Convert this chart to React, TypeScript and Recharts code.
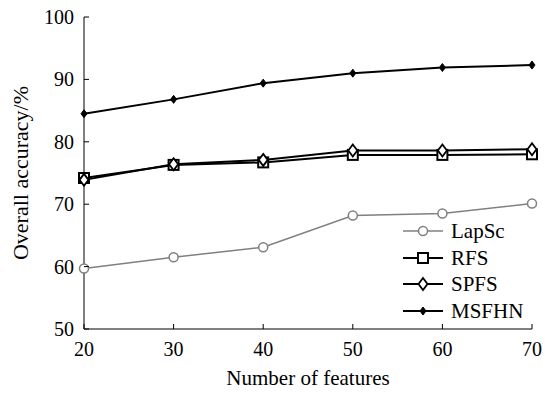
import React from "react";
import { LineChart, Line, XAxis, YAxis, Legend } from "recharts";

const features = [20, 30, 40, 50, 60, 70];
const lapsc = [59.7, 61.5, 63.1, 68.2, 68.5, 70.1];
const rfs = [74.2, 76.3, 76.7, 77.9, 77.9, 78.0];
const spfs = [73.9, 76.4, 77.1, 78.6, 78.6, 78.8];
const msfhn = [84.5, 86.8, 89.4, 91.0, 91.9, 92.3];
const xTicks = [20, 30, 40, 50, 60, 70];
const yTicks = [50, 60, 70, 80, 90, 100];

const data = features.map((f, i) => ({
  f,
  LapSc: lapsc[i],
  RFS: rfs[i],
  SPFS: spfs[i],
  MSFHN: msfhn[i],
}));

const FONT = '"Liberation Serif", "Times New Roman", serif';
const GRAY = "#808080";

// markers
const Circle = ({ cx, cy, stroke }: any) => (
  <circle cx={cx} cy={cy} r={4.5} fill="#fff" stroke={stroke} strokeWidth={1.5} />
);
const Square = ({ cx, cy }: any) => (
  <rect x={cx - 5} y={cy - 5} width={10} height={10} fill="#fff" stroke="#000" strokeWidth={2} />
);
const Diamond = ({ cx, cy }: any) => (
  <path d={`M${cx},${cy - 6}L${cx + 4.5},${cy}L${cx},${cy + 6}L${cx - 4.5},${cy}Z`} fill="#fff" stroke="#000" strokeWidth={1.8} />
);
const SmallDiamond = ({ cx, cy }: any) => (
  <path d={`M${cx},${cy - 4}L${cx + 3},${cy}L${cx},${cy + 4}L${cx - 3},${cy}Z`} fill="#000" stroke="#000" strokeWidth={1} />
);

const markerFor: Record<string, any> = {
  LapSc: Circle,
  RFS: Square,
  SPFS: Diamond,
  MSFHN: SmallDiamond,
};

const txt = { fontFamily: FONT };

const BottomTick = ({ x, y, payload }: any) => (
  <g>
    <line x1={x} y1={y} x2={x} y2={y - 5} stroke="#000" />
    <text x={x} y={y + 27} textAnchor="middle" style={txt} fontSize={20} fill="#000">
      {payload.value}
    </text>
  </g>
);
const TopTick = ({ x, y }: any) => <line x1={x} y1={y} x2={x} y2={y + 5} stroke="#000" />;
const LeftTick = ({ x, y, payload }: any) => (
  <g>
    <line x1={x} y1={y} x2={x + 5} y2={y} stroke="#000" />
    <text x={x - 10} y={y + 7} textAnchor="end" style={txt} fontSize={20} fill="#000">
      {payload.value}
    </text>
  </g>
);
const RightTick = ({ x, y }: any) => <line x1={x} y1={y} x2={x - 5} y2={y} stroke="#000" />;

const LegendBox = () => (
  <div style={{ fontFamily: FONT, fontSize: 21, lineHeight: "26.5px" }}>
    {["LapSc", "RFS", "SPFS", "MSFHN"].map((k) => {
      const color = k === "LapSc" ? GRAY : "#000";
      const M = markerFor[k];
      return (
        <div key={k} style={{ display: "flex", alignItems: "center", height: 26.5 }}>
          <svg width={48} height={16}>
            <line x1={0} y1={8} x2={40} y2={8} stroke={color} strokeWidth={k === "LapSc" ? 1.5 : 2} />
            <M cx={20} cy={8} stroke={color} />
          </svg>
          <span>{k}</span>
        </div>
      );
    })}
  </div>
);

export default function App() {
  return (
    <div style={{ position: "fixed", left: 0, top: 0, background: "#fff" }}>
      <LineChart width={545} height={393} data={data} margin={{ top: 17, right: 13, left: 0, bottom: 0 }}>
        <XAxis
          dataKey="f"
          type="number"
          domain={[20, 70]}
          ticks={xTicks}
          height={64}
          tickSize={0}
          tickMargin={0}
          tick={<BottomTick />}
          axisLine={{ stroke: "#000" }}
          label={{ value: "Number of features", position: "insideBottom", offset: 8, fontFamily: FONT, fontSize: 21, fill: "#000" }}
        />
        <XAxis
          xAxisId="top"
          orientation="top"
          dataKey="f"
          type="number"
          domain={[20, 70]}
          ticks={xTicks}
          height={0}
          tickSize={0}
          tickMargin={0}
          tick={<TopTick />}
          axisLine={{ stroke: "#000" }}
        />
        <YAxis
          type="number"
          domain={[50, 100]}
          ticks={yTicks}
          width={84}
          tickSize={0}
          tickMargin={0}
          tick={<LeftTick />}
          axisLine={{ stroke: "#000" }}
          label={{
            content: ({ viewBox }: any) => (
              <text
                transform={`translate(${viewBox.x + 20},${viewBox.y + viewBox.height / 2}) rotate(-90)`}
                textAnchor="middle"
                dominantBaseline="central"
                style={txt}
                fontSize={22}
                fill="#000"
              >
                Overall accuracy/%
              </text>
            ),
          }}
        />
        <YAxis
          yAxisId="right"
          orientation="right"
          type="number"
          domain={[50, 100]}
          ticks={yTicks}
          width={0}
          tickSize={0}
          tickMargin={0}
          tick={<RightTick />}
          axisLine={{ stroke: "#000" }}
        />
        <Legend
          layout="horizontal"
          verticalAlign="middle"
          align="center"
          content={<LegendBox />}
          wrapperStyle={{ position: "absolute", left: 403, top: 218, width: 130, height: 110 }}
        />
        <Line dataKey="LapSc" stroke={GRAY} strokeWidth={1.5} dot={<Circle stroke={GRAY} />} isAnimationActive={false} />
        <Line dataKey="RFS" stroke="#000" strokeWidth={2} dot={<Square />} isAnimationActive={false} />
        <Line dataKey="SPFS" stroke="#000" strokeWidth={2} dot={<Diamond />} isAnimationActive={false} />
        <Line dataKey="MSFHN" stroke="#000" strokeWidth={2} dot={<SmallDiamond />} isAnimationActive={false} />
      </LineChart>
    </div>
  );
}
